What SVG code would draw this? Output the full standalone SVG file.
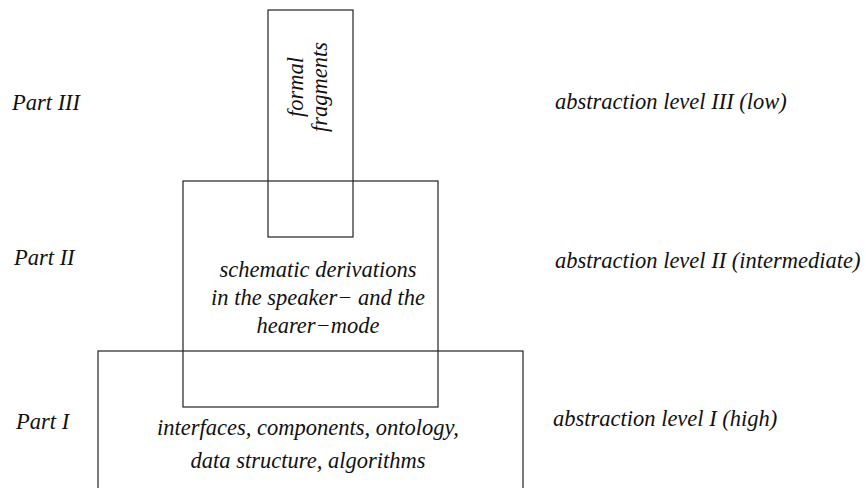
<svg xmlns="http://www.w3.org/2000/svg" width="866" height="488" viewBox="0 0 866 488">
<style>
.c{text-anchor:middle}
rect.n{fill:none;stroke:#222;stroke-width:1.2}
</style>
<rect x="0" y="0" width="866" height="488" fill="#fff"/>
<g font-family="Liberation Serif, Times New Roman, serif" font-style="italic" font-size="22.5" fill="#111">
<g id="part1">
<rect class="n" x="98" y="351" width="425" height="150"/>
<text class="c" x="308" y="435">interfaces, components, ontology,</text>
<text class="c" x="308" y="468">data structure, algorithms</text>
</g>
<g id="part2">
<rect class="n" x="183" y="181" width="255" height="226"/>
<text class="c" x="318" y="277">schematic derivations</text>
<text class="c" x="318" y="305">in the speaker− and the</text>
<text class="c" x="318" y="333">hearer−mode</text>
</g>
<g id="part3">
<rect class="n" x="268" y="10" width="85" height="227"/>
<text class="c" transform="translate(303,87) rotate(-90)">formal</text>
<text class="c" transform="translate(327,87) rotate(-90)">fragments</text>
</g>
<g id="labels">
<text x="12" y="110">Part III</text>
<text x="14" y="265">Part II</text>
<text x="16" y="429">Part I</text>
<text x="555" y="109">abstraction level III (low)</text>
<text x="555" y="268">abstraction level II (intermediate)</text>
<text x="553" y="426">abstraction level I (high)</text>
</g>
</g>
<g id="connectors"></g>
</svg>
